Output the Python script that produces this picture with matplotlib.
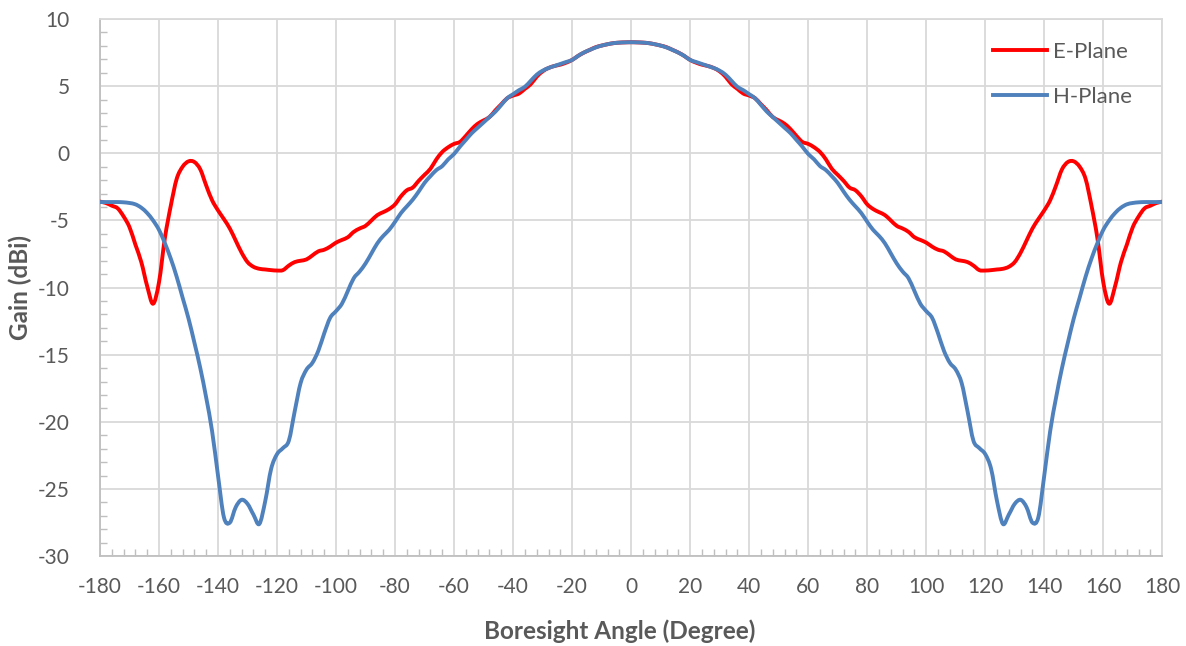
import matplotlib.pyplot as plt
from matplotlib.path import Path
from matplotlib.patches import PathPatch
from matplotlib.lines import Line2D
from matplotlib.ticker import MultipleLocator

# boresight angles, 2 degree steps
angles = list(range(-180, 182, 2))

# E-plane gain (dBi)
e_plane = [
    -3.6, -3.7, -3.9, -4.1, -4.7, -5.5, -6.8, -8.1, -9.9, -11.2,
    -9.6, -6.3, -3.9, -1.9, -1.0, -0.6, -0.65, -1.2, -2.4, -3.5,
    -4.25, -4.9, -5.6, -6.5, -7.4, -8.1, -8.45, -8.6, -8.65, -8.7,
    -8.73, -8.7, -8.36, -8.1, -8.0, -7.9, -7.6, -7.3, -7.18, -6.95,
    -6.65, -6.45, -6.25, -5.85, -5.6, -5.4, -5.0, -4.6, -4.38, -4.15,
    -3.8, -3.2, -2.75, -2.55, -2.05, -1.6, -1.15, -0.45, 0.1, 0.45,
    0.7, 0.85, 1.3, 1.8, 2.2, 2.45, 2.7, 3.2, 3.65, 4.1,
    4.3, 4.45, 4.8, 5.15, 5.7, 6.1, 6.35, 6.5, 6.6, 6.75,
    6.95, 7.25, 7.5, 7.7, 7.9, 8.02, 8.12, 8.2, 8.24, 8.26,
    8.27,
    8.26, 8.24, 8.2, 8.12, 8.02, 7.9, 7.7, 7.5, 7.25, 6.95,
    6.75, 6.6, 6.5, 6.35, 6.1, 5.7, 5.15, 4.8, 4.45, 4.3,
    4.1, 3.65, 3.2, 2.7, 2.45, 2.2, 1.8, 1.3, 0.85, 0.7,
    0.45, 0.1, -0.45, -1.15, -1.6, -2.05, -2.55, -2.75, -3.2, -3.8,
    -4.15, -4.38, -4.6, -5.0, -5.4, -5.6, -5.85, -6.25, -6.45, -6.65,
    -6.95, -7.18, -7.3, -7.6, -7.9, -8.0, -8.1, -8.36, -8.7, -8.73,
    -8.7, -8.65, -8.6, -8.45, -8.1, -7.4, -6.5, -5.6, -4.9, -4.25,
    -3.5, -2.4, -1.2, -0.65, -0.6, -1.0, -1.9, -3.9, -6.3, -9.6,
    -11.2, -9.9, -8.1, -6.8, -5.5, -4.7, -4.1, -3.9, -3.7, -3.6,
]

# H-plane gain (dBi)
h_plane = [
    -3.63, -3.63, -3.63, -3.63, -3.65, -3.7, -3.8, -4.05, -4.45, -5.0,
    -5.7, -6.7, -7.85, -9.2, -10.75, -12.3, -14.1, -16.0, -18.2, -20.7,
    -24.0, -27.1, -27.5, -26.35, -25.8, -26.1, -26.9, -27.6, -25.9, -23.5,
    -22.4, -21.95, -21.4, -19.2, -17.1, -16.1, -15.6, -14.7, -13.4, -12.25,
    -11.75, -11.2, -10.25, -9.3, -8.8, -8.2, -7.45, -6.7, -6.15, -5.7,
    -5.1, -4.45, -3.95, -3.45, -2.85, -2.2, -1.7, -1.25, -0.95, -0.45,
    -0.05, 0.5, 1.0, 1.5, 1.9, 2.3, 2.7, 3.1, 3.6, 4.1,
    4.4, 4.7, 4.95, 5.4, 5.85, 6.15, 6.35, 6.5, 6.65, 6.8,
    6.95, 7.25, 7.5, 7.7, 7.88, 8.02, 8.12, 8.2, 8.24, 8.26,
    8.27,
    8.26, 8.24, 8.2, 8.12, 8.02, 7.88, 7.7, 7.5, 7.25, 6.95,
    6.8, 6.65, 6.5, 6.35, 6.15, 5.85, 5.4, 4.95, 4.7, 4.4,
    4.1, 3.6, 3.1, 2.7, 2.3, 1.9, 1.5, 1.0, 0.5, -0.05,
    -0.45, -0.95, -1.25, -1.7, -2.2, -2.85, -3.45, -3.95, -4.45, -5.1,
    -5.7, -6.15, -6.7, -7.45, -8.2, -8.8, -9.3, -10.25, -11.2, -11.75,
    -12.25, -13.4, -14.7, -15.6, -16.1, -17.1, -19.2, -21.4, -21.95, -22.4,
    -23.5, -25.9, -27.6, -26.9, -26.1, -25.8, -26.35, -27.5, -27.1, -24.0,
    -20.7, -18.2, -16.0, -14.1, -12.3, -10.75, -9.2, -7.85, -6.7, -5.7,
    -5.0, -4.45, -4.05, -3.8, -3.7, -3.65, -3.63, -3.63, -3.63, -3.63,
]

plt.rcParams['font.family'] = ['Lato', 'DejaVu Sans']
plt.rcParams['axes.unicode_minus'] = False

grey_text = '#595959'
grid_col = '#D9D9D9'
axis_col = '#BFBFBF'
red = '#FF0000'
blue = '#4F81BD'


def smooth_line(ax, xs, ys, color, lw):
    # Excel style "smoothed line": bezier segments through the points
    verts = [(xs[0], ys[0])]
    codes = [Path.MOVETO]
    n = len(xs)
    for i in range(n - 1):
        x0, y0 = xs[max(i - 1, 0)], ys[max(i - 1, 0)]
        x1, y1 = xs[i], ys[i]
        x2, y2 = xs[i + 1], ys[i + 1]
        x3, y3 = xs[min(i + 2, n - 1)], ys[min(i + 2, n - 1)]
        verts += [(x1 + (x2 - x0) / 6, y1 + (y2 - y0) / 6),
                  (x2 - (x3 - x1) / 6, y2 - (y3 - y1) / 6),
                  (x2, y2)]
        codes += [Path.CURVE4] * 3
    patch = PathPatch(Path(verts, codes), facecolor='none', edgecolor=color,
                      lw=lw, capstyle='round', joinstyle='round', zorder=3)
    ax.add_patch(patch)


fig = plt.figure(figsize=(11.86, 6.46), dpi=100)
ax = fig.add_axes([0.0843, 0.139, 0.8957, 0.8316])

smooth_line(ax, angles, e_plane, red, 2.8)
smooth_line(ax, angles, h_plane, blue, 2.8)

ax.set_xlim(-180, 180)
ax.set_ylim(-30, 10)
ax.xaxis.set_major_locator(MultipleLocator(20))
ax.xaxis.set_minor_locator(MultipleLocator(4))
ax.yaxis.set_major_locator(MultipleLocator(5))
ax.yaxis.set_minor_locator(MultipleLocator(1))

ax.grid(True, which='major', color=grid_col, lw=1.3)
ax.set_axisbelow(True)

for side in ['top', 'right']:
    ax.spines[side].set_color(grid_col)
    ax.spines[side].set_linewidth(1.3)
for side in ['left', 'bottom']:
    ax.spines[side].set_color(axis_col)
    ax.spines[side].set_linewidth(1.3)

ax.tick_params(which='major', length=0, labelsize=15, labelcolor=grey_text)
ax.tick_params(axis='y', which='major', pad=22)
ax.tick_params(axis='x', which='major', pad=15)
ax.tick_params(which='minor', direction='in', length=5, color=axis_col, width=1)
ax.tick_params(axis='x', which='minor', top=False)
ax.tick_params(axis='y', which='minor', right=False)

ax.set_xlabel('Boresight Angle (Degree)', fontsize=17.5, fontweight='bold',
              color=grey_text)
ax.xaxis.set_label_coords(0.489, -0.118)
ax.set_ylabel('Gain (dBi)', fontsize=17.5, fontweight='bold',
              color=grey_text, labelpad=4)

handles = [Line2D([], [], color=red, lw=2.8), Line2D([], [], color=blue, lw=2.8)]
ax.legend(handles, ['E-Plane', 'H-Plane'], loc='upper right', frameon=False,
          fontsize=16, labelcolor=grey_text, handlelength=2.45, handletextpad=0.25,
          labelspacing=1.15, bbox_to_anchor=(0.99, 0.995))

fig.savefig('out.png', dpi=100)
